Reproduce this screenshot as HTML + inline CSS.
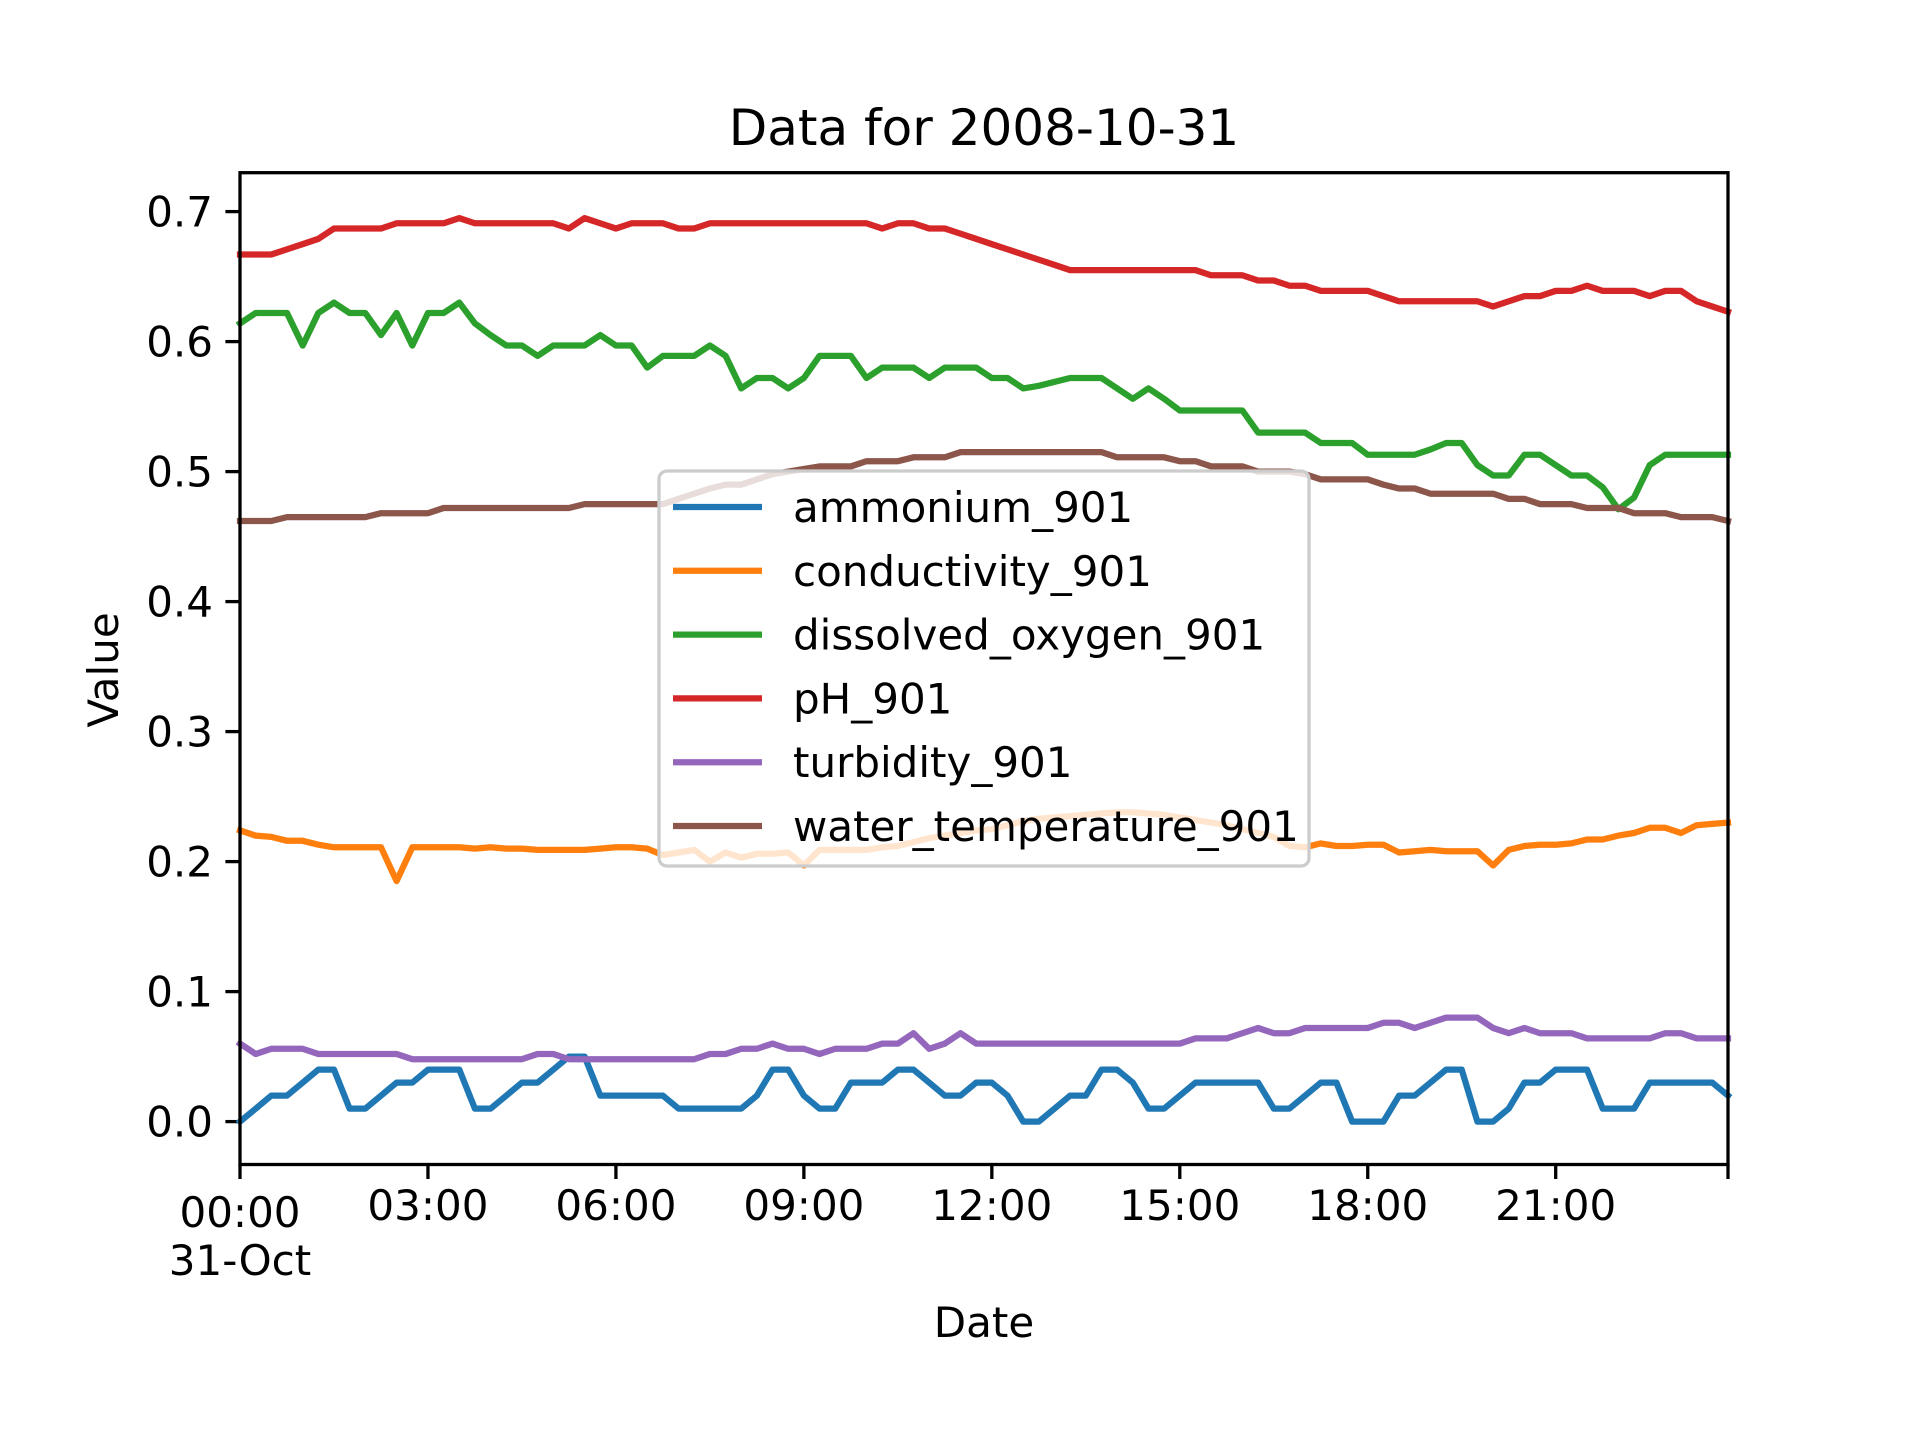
<!DOCTYPE html>
<html><head><meta charset="utf-8"><style>
html,body{margin:0;padding:0;background:#fff;}
svg{display:block;font-family:"DejaVu Sans","Liberation Sans",sans-serif;}
</style></head><body>
<svg id="chart" width="1920" height="1440" viewBox="0 0 1920 1440" xmlns="http://www.w3.org/2000/svg">
<rect width="1920" height="1440" fill="#fff"/>
<text x="984" y="145" text-anchor="middle" font-size="50">Data for 2008-10-31</text>
<text x="984" y="1337" text-anchor="middle" font-size="42">Date</text>
<text transform="translate(118,670) rotate(-90)" text-anchor="middle" font-size="42">Value</text>
<g id="grid"></g>
<g id="series"></g>
<rect x="240" y="172.7" width="1488" height="991.8" fill="none" stroke="#000" stroke-width="3.3"/>
<g id="legend"></g>
</svg>
<script>
const seriesNames = ["ammonium_901","conductivity_901","dissolved_oxygen_901","pH_901","turbidity_901","water_temperature_901"];
const seriesColors = ["#1f77b4","#ff7f0e","#2ca02c","#d62728","#9467bd","#8c564b"];
const xTickLabels = ["00:00","03:00","06:00","09:00","12:00","15:00","18:00","21:00",""];
const xTickHours = [0,3,6,9,12,15,18,21,23.75];
const yTickValues = [0,0.1,0.2,0.3,0.4,0.5,0.6,0.7];
const yTickLabels = ["0.0","0.1","0.2","0.3","0.4","0.5","0.6","0.7"];
const ammonium = [0,.01,.02,.02,.03,.04,.04,.01,.01,.02,.03,.03,.04,.04,.04,.01,.01,.02,.03,.03,.04,.05,.05,.02,.02,.02,.02,.02,.01,.01,.01,.01,.01,.02,.04,.04,.02,.01,.01,.03,.03,.03,.04,.04,.03,.02,.02,.03,.03,.02,0,0,.01,.02,.02,.04,.04,.03,.01,.01,.02,.03,.03,.03,.03,.03,.01,.01,.02,.03,.03,0,0,0,.02,.02,.03,.04,.04,0,0,.01,.03,.03,.04,.04,.04,.01,.01,.01,.03,.03,.03,.03,.03,.02];
const conductivity = [.224,.220,.219,.216,.216,.213,.211,.211,.211,.211,.185,.211,.211,.211,.211,.210,.211,.210,.210,.209,.209,.209,.209,.210,.211,.211,.210,.205,.207,.209,.200,.207,.203,.206,.206,.207,.197,.209,.209,.209,.209,.211,.212,.215,.218,.220,.222,.224,.225,.228,.231,.233,.234,.235,.236,.237,.238,.238,.237,.236,.234,.232,.230,.228,.225,.222,.219,.212,.211,.214,.212,.212,.213,.213,.207,.208,.209,.208,.208,.208,.197,.209,.212,.213,.213,.214,.217,.217,.220,.222,.226,.226,.222,.228,.229,.230];
const dissolvedOxygen = [.614,.622,.622,.622,.597,.622,.630,.622,.622,.605,.622,.597,.622,.622,.630,.614,.605,.597,.597,.589,.597,.597,.597,.605,.597,.597,.580,.589,.589,.589,.597,.589,.564,.572,.572,.564,.572,.589,.589,.589,.572,.580,.580,.580,.572,.580,.580,.580,.572,.572,.564,.566,.569,.572,.572,.572,.564,.556,.564,.556,.547,.547,.547,.547,.547,.530,.530,.530,.530,.522,.522,.522,.513,.513,.513,.513,.517,.522,.522,.505,.497,.497,.513,.513,.505,.497,.497,.488,.471,.480,.505,.513,.513,.513,.513,.513];
const pH = [.667,.667,.667,.671,.675,.679,.687,.687,.687,.687,.691,.691,.691,.691,.695,.691,.691,.691,.691,.691,.691,.687,.695,.691,.687,.691,.691,.691,.687,.687,.691,.691,.691,.691,.691,.691,.691,.691,.691,.691,.691,.687,.691,.691,.687,.687,.683,.679,.675,.671,.667,.663,.659,.655,.655,.655,.655,.655,.655,.655,.655,.655,.651,.651,.651,.647,.647,.643,.643,.639,.639,.639,.639,.635,.631,.631,.631,.631,.631,.631,.627,.631,.635,.635,.639,.639,.643,.639,.639,.639,.635,.639,.639,.631,.627,.623];
const turbidity = [.060,.052,.056,.056,.056,.052,.052,.052,.052,.052,.052,.048,.048,.048,.048,.048,.048,.048,.048,.052,.052,.048,.048,.048,.048,.048,.048,.048,.048,.048,.052,.052,.056,.056,.060,.056,.056,.052,.056,.056,.056,.060,.060,.068,.056,.060,.068,.060,.060,.060,.060,.060,.060,.060,.060,.060,.060,.060,.060,.060,.060,.064,.064,.064,.068,.072,.068,.068,.072,.072,.072,.072,.072,.076,.076,.072,.076,.080,.080,.080,.072,.068,.072,.068,.068,.068,.064,.064,.064,.064,.064,.068,.068,.064,.064,.064];
const waterTemperature = [.462,.462,.462,.465,.465,.465,.465,.465,.465,.468,.468,.468,.468,.472,.472,.472,.472,.472,.472,.472,.472,.472,.475,.475,.475,.475,.475,.475,.479,.483,.487,.490,.490,.494,.498,.500,.502,.504,.504,.504,.508,.508,.508,.511,.511,.511,.515,.515,.515,.515,.515,.515,.515,.515,.515,.515,.511,.511,.511,.511,.508,.508,.504,.504,.504,.500,.500,.500,.498,.494,.494,.494,.494,.490,.487,.487,.483,.483,.483,.483,.483,.479,.479,.475,.475,.475,.472,.472,.472,.468,.468,.468,.465,.465,.465,.462];
const allSeries = [ammonium,conductivity,dissolvedOxygen,pH,turbidity,waterTemperature];

const NS="http://www.w3.org/2000/svg";
const X0=240,X1=1728,HMAX=23.75;
const Y0=1121.6,YPER=1300;
const xs=h=>X0+(h/HMAX)*(X1-X0);
const ys=v=>Y0-v*YPER;
function mk(tag,attrs,parent){const e=document.createElementNS(NS,tag);for(const k in attrs)e.setAttribute(k,attrs[k]);parent.appendChild(e);return e;}
const grid=document.getElementById('grid');
xTickHours.forEach((h,i)=>{
  const x=xs(h);
  const t=mk('line',{x1:x,x2:x,y1:1164.5,y2:1179,stroke:'#000','stroke-width':3.3},grid);
  
  
  if(xTickLabels[i]){
    const tx=mk('text',{x:x,y:i===0?1227:1220,'text-anchor':'middle','font-size':42},grid);
    tx.textContent=xTickLabels[i];
    
    
  }
});
const d2=mk('text',{x:xs(0),y:1275,'text-anchor':'middle','font-size':42},grid);
d2.textContent='31-Oct';


yTickValues.forEach((v,i)=>{
  const y=ys(v);
  const t=mk('line',{x1:225.4,x2:240,y1:y,y2:y,stroke:'#000','stroke-width':3.3},grid);
  
  
  const tx=mk('text',{x:213,y:y+15,'text-anchor':'end','font-size':42},grid);
  tx.textContent=yTickLabels[i];
  
  
});
const sg=document.getElementById('series');
allSeries.forEach((arr,si)=>{
  const pts=arr.map((v,i)=>xs(i*0.25).toFixed(1)+','+ys(v).toFixed(1)).join(' ');
  const p=mk('polyline',{points:pts,fill:'none',stroke:seriesColors[si],'stroke-width':6.25,'stroke-linejoin':'round','stroke-linecap':'square'},sg);
  
  
});
const lg=document.getElementById('legend');
const box=mk('rect',{x:659,y:471,width:650,height:395,rx:8,fill:'#fff','fill-opacity':0.8,stroke:'#cccccc','stroke-width':3.3},lg);


seriesNames.forEach((n,i)=>{
  const y=507+i*63.8;
  const l=mk('line',{x1:673,x2:762,y1:y,y2:y,stroke:seriesColors[i],'stroke-width':6.25},lg);
  
  
  const t=mk('text',{x:793,y:y+15,'font-size':42},lg);
  t.textContent=n;
  
  
});
</script>
</body></html>
